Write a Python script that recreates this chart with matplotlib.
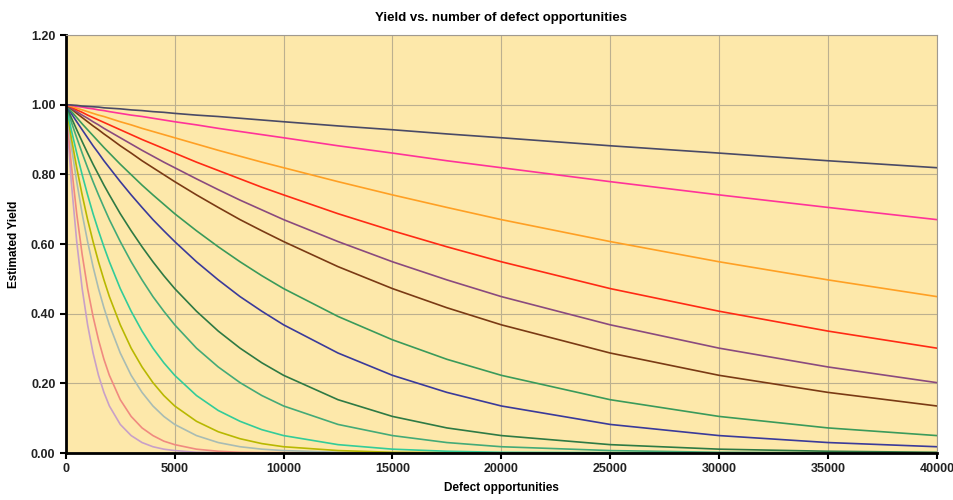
import matplotlib.pyplot as plt

# defect opportunities (x) at which the yield values were read
opportunities = [0, 250, 500, 750, 1000, 1250, 1500, 1750, 2000, 2500, 3000, 3500, 4000, 4500, 5000,
                 6000, 7000, 8000, 9000, 10000, 12500, 15000, 17500, 20000, 25000, 30000, 35000, 40000]

# estimated yield curves, top (slowest decay) to bottom (fastest)
yield_1 = [1, 0.999, 0.998, 0.996, 0.995, 0.994, 0.993, 0.991, 0.990, 0.988, 0.985, 0.983, 0.980, 0.978,
           0.975, 0.970, 0.966, 0.961, 0.956, 0.951, 0.939, 0.928, 0.916, 0.905, 0.882, 0.861, 0.839, 0.819]
yield_2 = [1, 0.998, 0.995, 0.993, 0.990, 0.988, 0.985, 0.983, 0.980, 0.975, 0.970, 0.966, 0.961, 0.956,
           0.951, 0.942, 0.932, 0.923, 0.914, 0.905, 0.882, 0.861, 0.839, 0.819, 0.779, 0.741, 0.705, 0.670]
yield_3 = [1, 0.995, 0.990, 0.985, 0.980, 0.975, 0.970, 0.966, 0.961, 0.951, 0.942, 0.932, 0.923, 0.914,
           0.905, 0.887, 0.869, 0.852, 0.835, 0.819, 0.779, 0.741, 0.705, 0.670, 0.607, 0.549, 0.497, 0.449]
yield_4 = [1, 0.993, 0.985, 0.978, 0.970, 0.963, 0.956, 0.949, 0.942, 0.928, 0.914, 0.900, 0.887, 0.874,
           0.861, 0.835, 0.811, 0.787, 0.763, 0.741, 0.687, 0.638, 0.592, 0.549, 0.472, 0.407, 0.350, 0.301]
yield_5 = [1, 0.990, 0.980, 0.970, 0.961, 0.951, 0.942, 0.932, 0.923, 0.905, 0.887, 0.869, 0.852, 0.835,
           0.819, 0.787, 0.756, 0.726, 0.698, 0.670, 0.607, 0.549, 0.497, 0.449, 0.368, 0.301, 0.247, 0.202]
yield_6 = [1, 0.988, 0.975, 0.963, 0.951, 0.939, 0.928, 0.916, 0.905, 0.882, 0.861, 0.839, 0.819, 0.799,
           0.779, 0.741, 0.705, 0.670, 0.638, 0.607, 0.535, 0.472, 0.417, 0.368, 0.287, 0.223, 0.174, 0.135]
yield_7 = [1, 0.981, 0.963, 0.945, 0.928, 0.911, 0.894, 0.877, 0.861, 0.829, 0.799, 0.769, 0.741, 0.714,
           0.687, 0.638, 0.592, 0.549, 0.509, 0.472, 0.392, 0.325, 0.269, 0.223, 0.153, 0.105, 0.072, 0.050]
yield_8 = [1, 0.975, 0.951, 0.928, 0.905, 0.882, 0.861, 0.839, 0.819, 0.779, 0.741, 0.705, 0.670, 0.638,
           0.607, 0.549, 0.497, 0.449, 0.407, 0.368, 0.287, 0.223, 0.174, 0.135, 0.082, 0.050, 0.030, 0.018]
yield_9 = [1, 0.963, 0.928, 0.894, 0.861, 0.829, 0.799, 0.769, 0.741, 0.687, 0.638, 0.592, 0.549, 0.509,
           0.472, 0.407, 0.350, 0.301, 0.259, 0.223, 0.153, 0.105, 0.072, 0.050, 0.024, 0.011, 0.005, 0.002]
yield_10 = [1, 0.951, 0.905, 0.861, 0.819, 0.779, 0.741, 0.705, 0.670, 0.607, 0.549, 0.497, 0.449, 0.407,
            0.368, 0.301, 0.247, 0.202, 0.165, 0.135, 0.082, 0.050, 0.030, 0.018, 0.007, 0.002, 0.001, 0]
yield_11 = [1, 0.928, 0.861, 0.799, 0.741, 0.687, 0.638, 0.592, 0.549, 0.472, 0.407, 0.350, 0.301, 0.259,
            0.223, 0.165, 0.122, 0.091, 0.067, 0.050, 0.024, 0.011, 0.005, 0.002, 0.001, 0, 0, 0]
yield_12 = [1, 0.905, 0.819, 0.741, 0.670, 0.607, 0.549, 0.497, 0.449, 0.368, 0.301, 0.247, 0.202, 0.165,
            0.135, 0.091, 0.061, 0.041, 0.027, 0.018, 0.007, 0.002, 0.001, 0, 0, 0, 0, 0]
yield_13 = [1, 0.882, 0.779, 0.687, 0.607, 0.535, 0.472, 0.417, 0.368, 0.287, 0.223, 0.174, 0.135, 0.105,
            0.082, 0.050, 0.030, 0.018, 0.011, 0.007, 0.002, 0.001, 0, 0, 0, 0, 0, 0]
yield_14 = [1, 0.829, 0.687, 0.570, 0.472, 0.392, 0.325, 0.269, 0.223, 0.153, 0.105, 0.072, 0.050, 0.034,
            0.024, 0.011, 0.005, 0.002, 0.001, 0.001, 0, 0, 0, 0, 0, 0, 0, 0]
yield_15 = [1, 0.779, 0.607, 0.472, 0.368, 0.287, 0.223, 0.174, 0.135, 0.082, 0.050, 0.030, 0.018, 0.011,
            0.007, 0.002, 0.001, 0, 0, 0, 0, 0, 0, 0, 0, 0, 0, 0]

curves = [yield_1, yield_2, yield_3, yield_4, yield_5, yield_6, yield_7, yield_8,
          yield_9, yield_10, yield_11, yield_12, yield_13, yield_14, yield_15]
colors = ['#4a4a66', '#ff3399', '#ffa024', '#ff2a14', '#8a4a7e', '#7a3a14', '#3a9a5a',
          '#3a3a9a', '#2e7a44', '#44aa77', '#33cc99', '#b8b800', '#a8bcb4', '#f08a80', '#c8a0c8']

plt.rcParams['font.family'] = ['Liberation Sans', 'DejaVu Sans']

fig = plt.figure(figsize=(9.54, 5.0), dpi=100)
ax = fig.add_axes([0.069, 0.094, 0.913, 0.836])
ax.set_facecolor('#fde8aa')

# draw fastest-decaying first so the slow curves sit on top
for ys, c in reversed(list(zip(curves, colors))):
    ax.plot(opportunities, ys, color=c, linewidth=1.2)

ax.set_xlim(0, 40000)
ax.set_ylim(0, 1.2)
ax.set_xticks(range(0, 40001, 5000))
ax.set_yticks([0, 0.2, 0.4, 0.6, 0.8, 1.0, 1.2])
ax.set_yticklabels(['%.2f' % v for v in ax.get_yticks()])
ax.grid(True, color='#bcb08f', linewidth=0.8)
ax.set_axisbelow(True)

for side in ['left', 'bottom']:
    ax.spines[side].set_color('black')
    ax.spines[side].set_linewidth(2)
for side in ['right', 'top']:
    ax.spines[side].set_color('#a09a90')
    ax.spines[side].set_linewidth(0.8)

ax.tick_params(direction='out', length=4, width=1.5, labelsize=9)
for lbl in ax.get_xticklabels() + ax.get_yticklabels():
    lbl.set_fontweight('bold')
    lbl.set_color('#222222')

ax.set_title('Yield vs. number of defect opportunities', fontsize=9.5, fontweight='bold', pad=10)
ax.set_xlabel('Defect opportunities', fontsize=8.5, fontweight='bold', labelpad=5)
ax.set_ylabel('Estimated Yield', fontsize=8.5, fontweight='bold', labelpad=8)

plt.savefig('out.png', dpi=100)
